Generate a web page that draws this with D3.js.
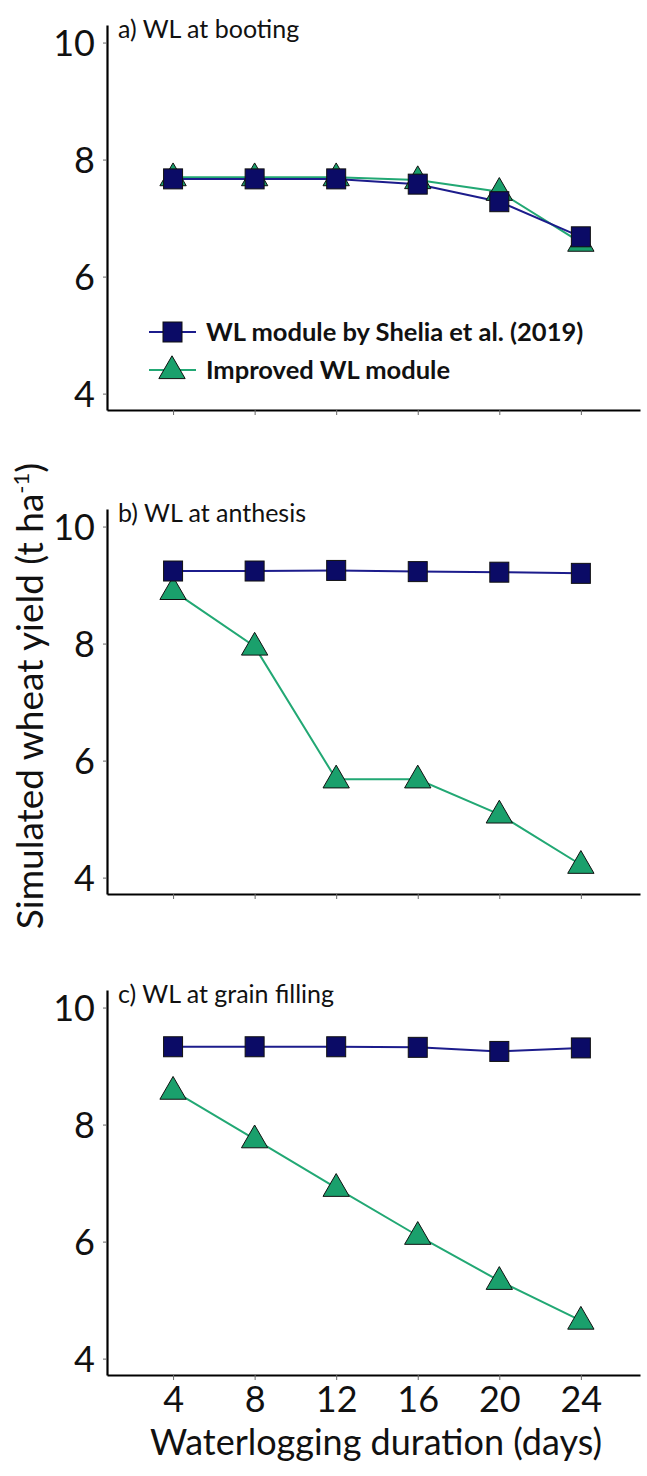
<!DOCTYPE html>
<html>
<head>
<meta charset="utf-8">
<script src="https://cdn.jsdelivr.net/npm/d3@7"></script>
<style>
  body { margin: 0; background: #fff; }
  text { font-family: Lato, "Open Sans", sans-serif; fill: #111; }
</style>
</head>
<body>
<script>
// waterlogging durations (days)
var days = [4, 8, 12, 16, 20, 24];
var yTicks = [4, 6, 8, 10];

var panelTitles = ['a) WL at booting', 'b) WL at anthesis', 'c) WL at grain filling'];

// WL module by Shelia et al. (2019)
var sheliaBooting = [7.67, 7.67, 7.67, 7.58, 7.28, 6.68];
var sheliaAnthesis = [9.24, 9.24, 9.25, 9.23, 9.22, 9.20];
var sheliaGrain = [9.33, 9.33, 9.33, 9.32, 9.25, 9.31];

// improved WL module
var improvedBooting = [7.70, 7.70, 7.70, 7.65, 7.45, 6.58];
var improvedAnthesis = [8.90, 7.95, 5.68, 5.68, 5.08, 4.22];
var improvedGrain = [8.58, 7.75, 6.92, 6.10, 5.33, 4.65];

var legendLabels = ['WL module by Shelia et al. (2019)', 'Improved WL module'];

var W = 647, H = 1476;
var axisLeft = 107, axisRight = 640;
var panelTop = [25, 509, 990];
var panelH = 385;

var blueFill = '#0b0b66', blueLine = '#1c1c8c';
var greenFill = '#1aa06c', greenLine = '#22a874';

var svg = d3.select('body').append('svg')
	.attr('width', W).attr('height', H);

var xScale = d3.scaleLinear()
	.domain([0.76, 26.9])
	.range([axisLeft, axisRight]);

var panels = [
	{blue: sheliaBooting, green: improvedBooting},
	{blue: sheliaAnthesis, green: improvedAnthesis},
	{blue: sheliaGrain, green: improvedGrain}
];

var tri = d3.symbol().type(d3.symbolTriangle).size(300);

panels.forEach(function(p, i){
	var g = svg.append('g').attr('transform', 'translate(0,' + panelTop[i] + ')');
	var yScale = d3.scaleLinear().domain([3.72, 10.3]).range([panelH, 0]);

	// y axis
	var yAxis = d3.axisLeft(yScale).tickValues(yTicks).tickFormat(d3.format('d'))
		.tickSize(4).tickSizeOuter(0).tickPadding(8);
	var ya = g.append('g').attr('transform', 'translate(' + axisLeft + ',0)').call(yAxis);
	ya.select('.domain').attr('stroke', '#000').attr('stroke-width', 2.2);
	ya.selectAll('.tick line').attr('stroke', '#666');
	ya.selectAll('.tick text').attr('font-size', '36px').attr('fill', '#111')
		.attr('font-family', 'Lato, sans-serif').attr('dy', '0.36em');

	// x axis
	var xAxis = d3.axisBottom(xScale).tickValues(days).tickSize(5).tickSizeOuter(0).tickPadding(6);
	var xa = g.append('g').attr('transform', 'translate(0,' + panelH + ')').call(xAxis);
	xa.select('.domain').attr('stroke', '#000').attr('stroke-width', 2.2);
	xa.selectAll('.tick line').attr('stroke', '#666');
	if(i < 2){
		xa.selectAll('.tick text').remove();
	} else {
		xa.selectAll('.tick text').attr('font-size', '36px').attr('fill', '#111')
			.attr('font-family', 'Lato, sans-serif');
	}

	// panel title
	g.append('text')
		.attr('x', 118).attr('y', 13)
		.attr('font-size', '25px')
		.text(panelTitles[i]);

	var line = d3.line()
		.x(function(d, k){ return xScale(days[k]); })
		.y(function(d){ return yScale(d); });

	g.append('path').datum(p.green)
		.attr('d', line).attr('fill', 'none')
		.attr('stroke', greenLine).attr('stroke-width', 2);
	g.append('path').datum(p.blue)
		.attr('d', line).attr('fill', 'none')
		.attr('stroke', blueLine).attr('stroke-width', 2);

	g.selectAll('.tri').data(p.green).enter()
		.append('path').attr('class', 'tri')
		.attr('d', tri)
		.attr('transform', function(d, k){ return 'translate(' + xScale(days[k]) + ',' + (yScale(d) + 1) + ')'; })
		.attr('fill', greenFill).attr('stroke', '#111').attr('stroke-width', 1);

	g.selectAll('.sq').data(p.blue).enter()
		.append('rect').attr('class', 'sq')
		.attr('x', function(d, k){ return xScale(days[k]) - 9.5; })
		.attr('y', function(d){ return yScale(d) - 10; })
		.attr('width', 19).attr('height', 20)
		.attr('fill', blueFill).attr('stroke', '#111').attr('stroke-width', 1);

	// legend in panel a
	if(i == 0){
		var lg = g.append('g').attr('transform', 'translate(0,' + (332 - panelTop[0]) + ')');
		lg.append('line').attr('x1', 149).attr('x2', 196).attr('y1', 0).attr('y2', 0)
			.attr('stroke', blueLine).attr('stroke-width', 2);
		lg.append('rect').attr('x', 163).attr('y', -10).attr('width', 19).attr('height', 20)
			.attr('fill', blueFill).attr('stroke', '#111');
		lg.append('text').attr('x', 206).attr('y', 9).attr('font-size', '25.5px')
			.attr('font-weight', 'bold').text(legendLabels[0]);

		lg.append('line').attr('x1', 149).attr('x2', 196).attr('y1', 38).attr('y2', 38)
			.attr('stroke', greenLine).attr('stroke-width', 2);
		lg.append('path').attr('d', tri).attr('transform', 'translate(172,39)')
			.attr('fill', greenFill).attr('stroke', '#111');
		lg.append('text').attr('x', 206).attr('y', 47).attr('font-size', '25.5px')
			.attr('font-weight', 'bold').text(legendLabels[1]);
	}
});

// axis titles
var ylab = svg.append('text')
	.attr('transform', 'translate(43,696) rotate(-90)')
	.attr('text-anchor', 'middle')
	.attr('font-size', '37px');
ylab.append('tspan').text('Simulated wheat yield (t ha');
ylab.append('tspan').attr('font-size', '22px').attr('dy', '-14').text('-1');
ylab.append('tspan').attr('dy', '14').text(')');

svg.append('text')
	.attr('x', 376).attr('y', 1455)
	.attr('text-anchor', 'middle')
	.attr('font-size', '36px')
	.text('Waterlogging duration (days)');
</script>
</body>
</html>
